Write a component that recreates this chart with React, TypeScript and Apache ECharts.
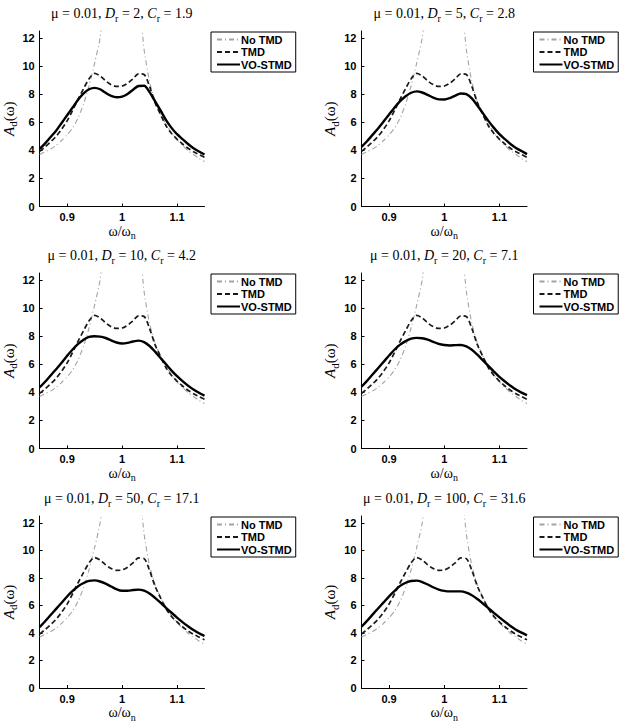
import React, { useEffect, useRef } from "react";
import * as echarts from "echarts";

// Frequency ratio ω/ωn sampled across the plotted band
const omega = [
  0.85, 0.86, 0.87, 0.88, 0.89, 0.9, 0.91, 0.92, 0.93, 0.94, 0.95, 0.96, 0.97, 0.98, 0.99, 1.0,
  1.01, 1.02, 1.03, 1.04, 1.05, 1.06, 1.07, 1.08, 1.09, 1.1, 1.11, 1.12, 1.13, 1.14, 1.15,
];

// Uncontrolled structure (runs off the top near resonance)
const noTmd = [
  3.7, 3.9, 4.1, 4.35, 4.7, 5.1, 5.6, 6.3, 7.3, 8.6, 10.2, 12.0, 15.5, null, null, null,
  null, null, 15.5, 11.2, 8.9, 7.5, 6.6, 5.85, 5.25, 4.75, 4.35, 3.98, 3.7, 3.42, 3.2,
];

// Passive TMD
const tmd = [
  3.92, 4.25, 4.6, 5.0, 5.5, 6.1, 6.85, 7.65, 8.4, 9.1, 9.48, 9.3, 8.95, 8.68, 8.55, 8.58,
  8.78, 9.1, 9.45, 9.4, 8.55, 7.4, 6.55, 5.75, 5.2, 4.8, 4.45, 4.15, 3.9, 3.7, 3.5,
];

// VO-STMD responses for each Dr
const voDr2 = [
  4.1, 4.5, 4.95, 5.4, 5.95, 6.5, 7.05, 7.6, 8.05, 8.35, 8.45, 8.35, 8.1, 7.88, 7.78, 7.82,
  8.02, 8.32, 8.58, 8.6, 8.15, 7.5, 6.85, 6.15, 5.6, 5.15, 4.8, 4.45, 4.15, 3.92, 3.7,
];
const voDr5 = [
  4.25, 4.65, 5.1, 5.55, 6.05, 6.55, 7.05, 7.5, 7.85, 8.1, 8.2, 8.12, 7.95, 7.75, 7.63, 7.62,
  7.72, 7.9, 8.05, 8.0, 7.7, 7.2, 6.65, 6.1, 5.6, 5.15, 4.8, 4.45, 4.17, 3.95, 3.73,
];
const voDr10 = [
  4.35, 4.75, 5.2, 5.65, 6.1, 6.6, 7.05, 7.45, 7.75, 7.95, 8.0, 7.97, 7.87, 7.7, 7.55, 7.48,
  7.52, 7.62, 7.68, 7.58, 7.3, 6.9, 6.45, 6.0, 5.55, 5.15, 4.8, 4.48, 4.2, 3.97, 3.77,
];
const voDr20 = [
  4.4, 4.82, 5.27, 5.72, 6.17, 6.62, 7.05, 7.4, 7.65, 7.82, 7.88, 7.85, 7.75, 7.6, 7.45, 7.37,
  7.34, 7.36, 7.37, 7.27, 7.03, 6.68, 6.28, 5.88, 5.48, 5.1, 4.77, 4.47, 4.2, 3.98, 3.8,
];
const voDr50 = [
  4.42, 4.85, 5.3, 5.75, 6.2, 6.65, 7.05, 7.4, 7.63, 7.78, 7.82, 7.74, 7.58, 7.38, 7.18, 7.07,
  7.07, 7.12, 7.15, 7.07, 6.86, 6.55, 6.2, 5.83, 5.47, 5.12, 4.79, 4.49, 4.21, 3.98, 3.78,
];
const voDr100 = [
  4.45, 4.88, 5.33, 5.78, 6.22, 6.66, 7.06, 7.42, 7.65, 7.78, 7.8, 7.7, 7.52, 7.32, 7.15, 7.06,
  7.02, 7.02, 7.02, 6.93, 6.74, 6.47, 6.14, 5.8, 5.46, 5.13, 4.81, 4.51, 4.24, 4.02, 3.83,
];

const massRatio = "0.01";
const drValues = ["2", "5", "10", "20", "50", "100"];
const crValues = ["1.9", "2.8", "4.2", "7.1", "17.1", "31.6"];
const voCurves = [voDr2, voDr5, voDr10, voDr20, voDr50, voDr100];

const seriesNames = ["No TMD", "TMD", "VO-STMD"];
const xTicks = [0.9, 1, 1.1];
const yTicks = [0, 2, 4, 6, 8, 10, 12];

// Panel geometry (2 columns x 3 rows)
const colLeft = [39, 361.5];
const rowTop = [31, 273, 516];
const plotW = 165.5;
const plotH = 175.5;

const SERIF = "'Liberation Serif', 'Times New Roman', serif";
const SANS = "'Liberation Sans', Arial, sans-serif";

const richText = (size: number) => ({
  t: { fontFamily: SERIF, fontSize: size, fontWeight: "normal", color: "#000" },
  i: { fontFamily: SERIF, fontSize: size, fontWeight: "normal", fontStyle: "italic", color: "#000" },
  s: { fontFamily: SERIF, fontSize: size - 4, fontWeight: "normal", color: "#000", padding: [9, 0, 0, 0] },
});

const pairs = (ys: (number | null)[]) => omega.map((w, i) => [w, ys[i] == null ? "-" : ys[i]]);

function buildOption() {
  const grid: any[] = [];
  const xAxis: any[] = [];
  const yAxis: any[] = [];
  const title: any[] = [];
  const legend: any[] = [];
  const series: any[] = [];

  voCurves.forEach((vo, k) => {
    const col = k % 2;
    const row = Math.floor(k / 2);
    const left = colLeft[col];
    const top = rowTop[row];

    grid.push({ left, top, width: plotW, height: plotH, containLabel: false });

    title.push({
      text: `{t|μ = ${massRatio}, }{i|D}{s|r}{t| = ${drValues[k]}, }{i|C}{s|r}{t| = ${crValues[k]}}`,
      left: left + plotW / 2,
      top: top - 27,
      textAlign: "center",
      padding: 0,
      textStyle: { fontWeight: "normal", rich: richText(14) },
    });

    legend.push({
      data: seriesNames,
      orient: "vertical",
      left: left + 172,
      top: top + 1,
      padding: [2, 4, 2, 5],
      itemGap: 1.5,
      itemWidth: 23,
      itemHeight: 12,
      borderColor: "#000",
      borderWidth: 1,
      borderRadius: 0,
      backgroundColor: "#fff",
      selectedMode: false,
      itemStyle: { opacity: 0 },
      textStyle: { fontFamily: SANS, fontWeight: "bold", fontSize: 11, color: "#000", padding: [0, 0, 0, -4] },
    });

    xAxis.push({
      gridIndex: k,
      type: "value",
      min: 0.85,
      max: 1.15,
      name: "{t|ω/ω}{s|n}",
      nameLocation: "middle",
      nameGap: 15,
      nameTextStyle: { rich: richText(14) },
      axisLine: { show: true, onZero: false, lineStyle: { color: "#000", width: 1 } },
      axisTick: { show: true, inside: true, length: 3, customValues: xTicks, lineStyle: { color: "#000" } },
      axisLabel: {
        customValues: xTicks,
        formatter: (v: number) => String(v),
        margin: 5,
        fontFamily: SANS,
        fontWeight: "bold",
        fontSize: 11,
        color: "#000",
      },
      splitLine: { show: false },
    });

    yAxis.push({
      gridIndex: k,
      type: "value",
      min: 0,
      max: 12.5,
      name: "{i|A}{s|d}{t|(ω)}",
      nameLocation: "middle",
      nameGap: 17,
      nameTextStyle: { rich: richText(15) },
      axisLine: { show: true, onZero: false, lineStyle: { color: "#000", width: 1 } },
      axisTick: { show: true, inside: true, length: 3, customValues: yTicks, lineStyle: { color: "#000" } },
      axisLabel: {
        customValues: yTicks,
        margin: 5,
        fontFamily: SANS,
        fontWeight: "bold",
        fontSize: 11,
        color: "#000",
      },
      splitLine: { show: false },
    });

    series.push(
      {
        name: "No TMD",
        type: "line",
        xAxisIndex: k,
        yAxisIndex: k,
        data: pairs(noTmd),
        symbol: "none",
        smooth: 0.2,
        connectNulls: false,
        clip: true,
        lineStyle: { color: "#a3a3a3", width: 1.1, type: [5, 3, 1, 3] },
        itemStyle: { color: "#a3a3a3" },
        z: 2,
      },
      {
        name: "TMD",
        type: "line",
        xAxisIndex: k,
        yAxisIndex: k,
        data: pairs(tmd),
        symbol: "none",
        smooth: 0.3,
        clip: true,
        lineStyle: { color: "#1a1a1a", width: 1.7, type: [5, 3] },
        itemStyle: { color: "#1a1a1a" },
        z: 3,
      },
      {
        name: "VO-STMD",
        type: "line",
        xAxisIndex: k,
        yAxisIndex: k,
        data: pairs(vo),
        symbol: "none",
        smooth: 0.3,
        clip: true,
        lineStyle: { color: "#000", width: 2.4, type: "solid" },
        itemStyle: { color: "#000" },
        z: 4,
      }
    );
  });

  return {
    animation: false,
    backgroundColor: "#fff",
    title,
    legend,
    grid,
    xAxis,
    yAxis,
    series,
  };
}

export default function App() {
  const ref = useRef<HTMLDivElement>(null);

  useEffect(() => {
    if (!ref.current) return;
    const chart = echarts.init(ref.current, undefined, { renderer: "svg" });
    chart.setOption(buildOption() as any);
    return () => chart.dispose();
  }, []);

  return (
    <div
      ref={ref}
      style={{ position: "absolute", left: 0, top: 0, width: 624, height: 723, background: "#fff" }}
    />
  );
}
